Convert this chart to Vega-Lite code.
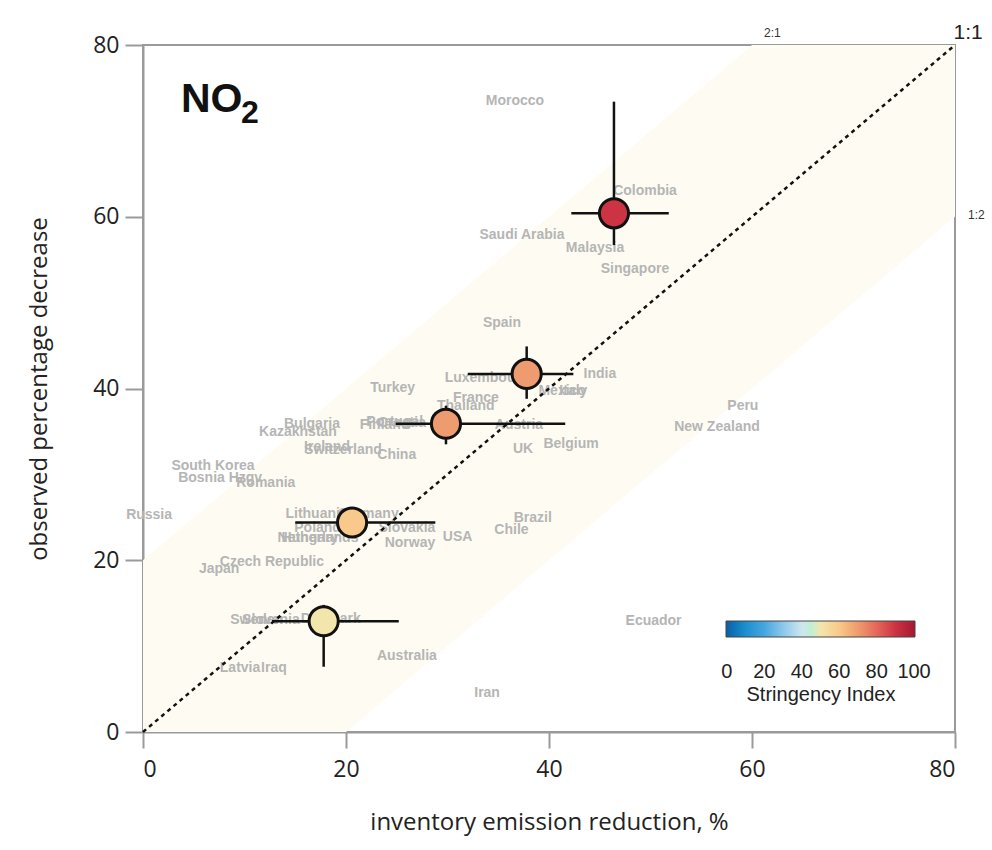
{
  "$schema": "https://vega.github.io/schema/vega-lite/v6.json",
  "width": 812,
  "height": 687,
  "autosize": {"type": "none"},
  "padding": {"left": 143, "top": 45, "right": 37, "bottom": 118},
  "background": "white",
  "config": {
    "view": {"stroke": "#9a9a9a", "strokeWidth": 2},
    "axis": {
      "domainColor": "#9a9a9a", "domainWidth": 2,
      "tickColor": "#9a9a9a", "tickWidth": 2,
      "grid": false,
      "labelFont": "Open Sans", "labelFontSize": 23, "labelColor": "#222222",
      "titleFont": "Open Sans", "titleFontSize": 24, "titleFontWeight": "normal", "titleColor": "#222222"
    },
    "axisX": {"tickSize": 16, "labelPadding": 10, "titlePadding": 29},
    "axisY": {"tickSize": 18, "labelPadding": 6, "titlePadding": 41}
  },
  "layer": [
    {
      "data": {"values": [
        {"bx": 0, "blo": 0, "bhi": 20},
        {"bx": 20, "blo": 0, "bhi": 40},
        {"bx": 60, "blo": 40, "bhi": 80},
        {"bx": 80, "blo": 60, "bhi": 80}
      ]},
      "mark": {"type": "area", "color": "#fefcf2", "opacity": 1},
      "encoding": {
        "x": {"field": "bx", "type": "quantitative", "scale": {"domain": [0, 80], "nice": false}, "title": "inventory emission reduction, %", "axis": {"values": [0, 20, 40, 60, 80]}},
        "y": {"field": "blo", "type": "quantitative", "scale": {"domain": [0, 80], "nice": false}, "title": "observed percentage decrease", "axis": {"values": [0, 20, 40, 60, 80]}},
        "y2": {"field": "bhi"}
      }
    },
    {
      "data": {"values": [
        {"country": "Morocco", "x": 36.65, "y": 73.46},
        {"country": "Colombia", "x": 49.46, "y": 62.98},
        {"country": "Saudi Arabia", "x": 37.34, "y": 57.86},
        {"country": "Malaysia", "x": 44.53, "y": 56.34},
        {"country": "Singapore", "x": 48.47, "y": 53.9},
        {"country": "Spain", "x": 35.37, "y": 47.61},
        {"country": "India", "x": 45.02, "y": 41.68},
        {"country": "Luxembourg", "x": 33.9, "y": 41.2},
        {"country": "Turkey", "x": 24.6, "y": 40.05},
        {"country": "Mexico", "x": 41.3, "y": 39.7},
        {"country": "Italy", "x": 42.4, "y": 39.7},
        {"country": "France", "x": 32.8, "y": 38.9},
        {"country": "Thailand", "x": 31.8, "y": 37.95},
        {"country": "Peru", "x": 59.1, "y": 37.95},
        {"country": "Bulgaria", "x": 16.65, "y": 35.86},
        {"country": "Finland", "x": 23.8, "y": 35.7},
        {"country": "Portugal", "x": 24.8, "y": 36.1},
        {"country": "Croatia", "x": 25.5, "y": 36.0},
        {"country": "Austria", "x": 37.04, "y": 35.74},
        {"country": "New Zealand", "x": 56.55, "y": 35.5},
        {"country": "Kazakhstan", "x": 15.27, "y": 34.9},
        {"country": "Belgium", "x": 42.17, "y": 33.5},
        {"country": "Ireland", "x": 18.13, "y": 33.2},
        {"country": "Switzerland", "x": 19.7, "y": 32.8},
        {"country": "UK", "x": 37.44, "y": 32.9},
        {"country": "China", "x": 25.0, "y": 32.2},
        {"country": "South Korea", "x": 6.9, "y": 31.0},
        {"country": "Bosnia Hzgv", "x": 7.6, "y": 29.6},
        {"country": "Romania", "x": 12.1, "y": 29.0},
        {"country": "Russia", "x": 0.6, "y": 25.3},
        {"country": "Lithuania", "x": 17.1, "y": 25.4},
        {"country": "Germany", "x": 22.2, "y": 25.4},
        {"country": "Brazil", "x": 38.4, "y": 24.9},
        {"country": "Poland", "x": 17.2, "y": 23.75},
        {"country": "Slovakia", "x": 26.0, "y": 23.75},
        {"country": "Chile", "x": 36.3, "y": 23.5},
        {"country": "Netherlands", "x": 17.24, "y": 22.6},
        {"country": "Hungary", "x": 16.45, "y": 22.6},
        {"country": "USA", "x": 31.0, "y": 22.7},
        {"country": "Norway", "x": 26.3, "y": 22.0},
        {"country": "Czech Republic", "x": 12.7, "y": 19.8},
        {"country": "Japan", "x": 7.5, "y": 19.0},
        {"country": "Sweden", "x": 11.2, "y": 13.1},
        {"country": "Slovenia", "x": 12.6, "y": 13.1},
        {"country": "Denmark", "x": 18.5, "y": 13.15},
        {"country": "Australia", "x": 26.0, "y": 8.85},
        {"country": "Latvia", "x": 9.56, "y": 7.45},
        {"country": "Iraq", "x": 12.9, "y": 7.45},
        {"country": "Ecuador", "x": 50.3, "y": 12.9},
        {"country": "Iran", "x": 33.9, "y": 4.5}
      ]},
      "mark": {"type": "text", "font": "Liberation Sans", "fontWeight": "bold", "fontSize": 14, "color": "#b5b5b5", "align": "center", "baseline": "middle"},
      "encoding": {
        "x": {"field": "x", "type": "quantitative", "scale": {"domain": [0, 80], "nice": false}, "title": "inventory emission reduction, %"},
        "y": {"field": "y", "type": "quantitative", "scale": {"domain": [0, 80], "nice": false}, "title": "observed percentage decrease"},
        "text": {"field": "country"}
      }
    },
    {
      "data": {"values": [{"lx": 0, "ly": 0}, {"lx": 80, "ly": 80}]},
      "mark": {"type": "line", "color": "#111111", "strokeWidth": 2.5, "strokeDash": [4, 4]},
      "encoding": {
        "x": {"field": "lx", "type": "quantitative", "scale": {"domain": [0, 80], "nice": false}, "title": "inventory emission reduction, %"},
        "y": {"field": "ly", "type": "quantitative", "scale": {"domain": [0, 80], "nice": false}, "title": "observed percentage decrease"}
      }
    },
    {
      "data": {"name": "pts", "values": [
        {"x": 46.4, "y": 60.4, "xlo": 42.2, "xhi": 51.8, "ylo": 56.7, "yhi": 73.4, "stringency": 90},
        {"x": 37.8, "y": 41.7, "xlo": 32.0, "xhi": 42.4, "ylo": 38.8, "yhi": 44.9, "stringency": 70},
        {"x": 29.85, "y": 35.9, "xlo": 24.9, "xhi": 41.6, "ylo": 33.5, "yhi": 38.0, "stringency": 70},
        {"x": 20.6, "y": 24.4, "xlo": 15.0, "xhi": 28.8, "ylo": 23.0, "yhi": 25.8, "stringency": 60},
        {"x": 17.8, "y": 12.9, "xlo": 12.7, "xhi": 25.2, "ylo": 7.6, "yhi": 14.8, "stringency": 50}
      ]},
      "layer": [
        {
          "mark": {"type": "rule", "color": "#111111", "strokeWidth": 2.5},
          "encoding": {
            "x": {"field": "xlo", "type": "quantitative", "scale": {"domain": [0, 80], "nice": false}, "title": "inventory emission reduction, %"},
            "x2": {"field": "xhi"},
            "y": {"field": "y", "type": "quantitative", "scale": {"domain": [0, 80], "nice": false}, "title": "observed percentage decrease"}
          }
        },
        {
          "mark": {"type": "rule", "color": "#111111", "strokeWidth": 2.5},
          "encoding": {
            "x": {"field": "x", "type": "quantitative", "scale": {"domain": [0, 80], "nice": false}, "title": "inventory emission reduction, %"},
            "y": {"field": "ylo", "type": "quantitative", "scale": {"domain": [0, 80], "nice": false}, "title": "observed percentage decrease"},
            "y2": {"field": "yhi"}
          }
        },
        {
          "mark": {"type": "point", "shape": "circle", "filled": true, "size": 850, "stroke": "#111111", "strokeWidth": 3, "opacity": 1},
          "encoding": {
            "x": {"field": "x", "type": "quantitative", "scale": {"domain": [0, 80], "nice": false}, "title": "inventory emission reduction, %"},
            "y": {"field": "y", "type": "quantitative", "scale": {"domain": [0, 80], "nice": false}, "title": "observed percentage decrease"},
            "color": {
              "field": "stringency", "type": "quantitative",
              "scale": {
                "type": "linear",
                "domain": [-0.5, 10, 20, 30, 40, 50, 60, 70, 80, 90, 100.5],
                "range": ["#0b5fa5", "#1c8fd0", "#45a6df", "#8bc8ea", "#cde6ef", "#f3e6ac", "#f8c98a", "#ee9b6f", "#e4675b", "#cc3343", "#a6172f"]
              },
              "legend": {
                "title": "Stringency Index", "type": "gradient",
                "values": [0, 20, 40, 60, 80, 100],
                "orient": "none", "legendX": 583, "legendY": 576,
                "direction": "horizontal",
                "gradientLength": 189, "gradientThickness": 16,
                "gradientStrokeColor": "#444444", "gradientStrokeWidth": 1,
                "labelFont": "Liberation Sans", "labelFontSize": 20, "labelColor": "#222222",
                "labelOffset": 25, "labelOverlap": false,
                "titleOrient": "bottom", "titleAnchor": "middle",
                "titleFont": "Liberation Sans", "titleFontSize": 20, "titleFontWeight": "normal", "titleColor": "#222222", "titlePadding": 3
              }
            }
          }
        }
      ]
    },
    {
      "data": {"values": [{"label": "2:1", "x": 62.0, "y": 81.4}, {"label": "1:2", "x": 82.1, "y": 60.2}]},
      "mark": {"type": "text", "font": "Liberation Sans", "fontSize": 12, "color": "#333333", "align": "center", "baseline": "middle", "clip": false},
      "encoding": {
        "x": {"field": "x", "type": "quantitative", "scale": {"domain": [0, 80], "nice": false}, "title": "inventory emission reduction, %"},
        "y": {"field": "y", "type": "quantitative", "scale": {"domain": [0, 80], "nice": false}, "title": "observed percentage decrease"},
        "text": {"field": "label"}
      }
    },
    {
      "data": {"values": [{"label": "1:1", "x": 81.3, "y": 81.4}]},
      "mark": {"type": "text", "font": "Liberation Sans", "fontSize": 21, "color": "#222222", "align": "center", "baseline": "middle", "clip": false},
      "encoding": {
        "x": {"field": "x", "type": "quantitative", "scale": {"domain": [0, 80], "nice": false}, "title": "inventory emission reduction, %"},
        "y": {"field": "y", "type": "quantitative", "scale": {"domain": [0, 80], "nice": false}, "title": "observed percentage decrease"},
        "text": {"field": "label"}
      }
    },
    {
      "data": {"values": [{"label": "NO", "x": 3.74, "y": 72.18}]},
      "mark": {"type": "text", "font": "Liberation Sans", "fontWeight": "bold", "fontSize": 41, "color": "#111111", "align": "left", "baseline": "alphabetic"},
      "encoding": {
        "x": {"field": "x", "type": "quantitative", "scale": {"domain": [0, 80], "nice": false}, "title": "inventory emission reduction, %"},
        "y": {"field": "y", "type": "quantitative", "scale": {"domain": [0, 80], "nice": false}, "title": "observed percentage decrease"},
        "text": {"field": "label"}
      }
    },
    {
      "data": {"values": [{"label": "2", "x": 9.66, "y": 70.9}]},
      "mark": {"type": "text", "font": "Liberation Sans", "fontWeight": "bold", "fontSize": 32, "color": "#111111", "align": "left", "baseline": "alphabetic"},
      "encoding": {
        "x": {"field": "x", "type": "quantitative", "scale": {"domain": [0, 80], "nice": false}, "title": "inventory emission reduction, %"},
        "y": {"field": "y", "type": "quantitative", "scale": {"domain": [0, 80], "nice": false}, "title": "observed percentage decrease"},
        "text": {"field": "label"}
      }
    }
  ]
}
